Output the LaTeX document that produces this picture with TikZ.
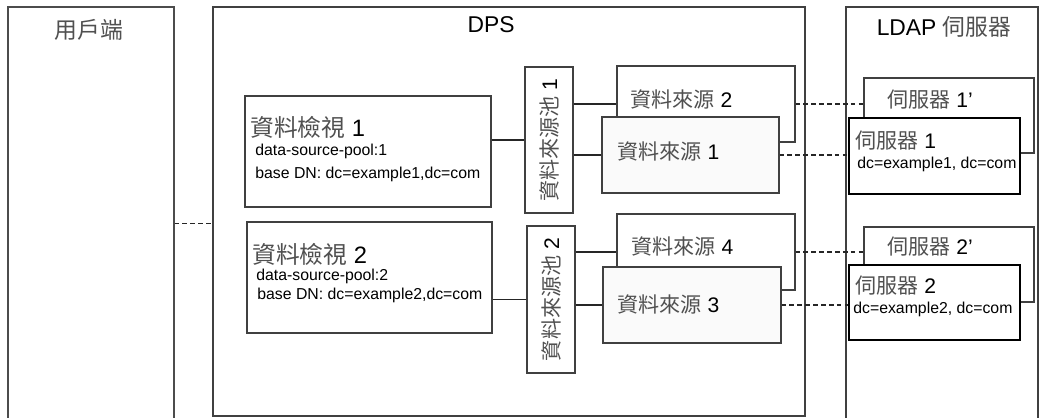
\documentclass[tikz,border=0pt]{standalone}
\usepackage{fontspec}
\setmainfont{Liberation Sans}
\newfontfamily\cjk{Noto Sans CJK TC}
\usetikzlibrary{fit,calc}

\definecolor{zhgray}{HTML}{505050}
\definecolor{boxgray}{HTML}{404040}
\newcommand{\zh}[1]{{\cjk\color{zhgray}#1}}

\tikzset{
	box/.style={draw=boxgray,line width=0.6pt,inner sep=0pt,fill=white},
	srvbox/.style={draw=black,line width=0.8pt,inner sep=0pt,fill=white},
	txt/.style={inner sep=0pt,anchor=base west},
	link/.style={draw=black!85,line width=0.6pt},
	dlink/.style={link,dash pattern=on 2.6pt off 1.9pt},
	big/.style={font=\fontsize{13}{15}\selectfont},
	mid/.style={font=\fontsize{12}{14}\selectfont},
	small/.style={font=\fontsize{9}{11}\selectfont}
}

\begin{document}
\begin{tikzpicture}[x=0.02cm,y=-0.02cm]
\useasboundingbox (0,0) rectangle (1043,417);

% the three columns
\node[box,draw=black!70,fit={(8,7) (174,420)}] (client) {};
\node[box,fit={(213,7) (805,416)}] (dps) {};
\node[box,fit={(846,7) (1038,420)}] (ldap) {};

\node[big,anchor=base] at (89,38) {\zh{用戶端}};
\node[big,anchor=base] at (491,32) {DPS};
\node[big,anchor=base] at (944,35) {LDAP \zh{伺服器}};

% data views
\node[box,fit={(245,96) (491,207)}] (view1) {};
\node[box,fit={(247,222) (492,333)}] (view2) {};

\node[txt,font=\fontsize{13.5}{15}\selectfont] at (250,136) {\zh{資料檢視} 1};
\node[txt,small] at (255,155) {data-source-pool:1};
\node[txt,small] at (255,178) {base DN: dc=example1,dc=com};
\node[txt,font=\fontsize{13.5}{15}\selectfont] at (252,263) {\zh{資料檢視} 2};
\node[txt,small] at (256,280) {data-source-pool:2};
\node[txt,small] at (257,299) {base DN: dc=example2,dc=com};

% data source pools
\node[box,fit={(525,67) (573,213)}] (pool1) {};
\node[box,fit={(527,226) (575,373)}] (pool2) {};
\node[mid,rotate=90] at (pool1.center) {\zh{資料來源池} 1};
\node[mid,rotate=90] at (pool2.center) {\zh{資料來源池} 2};

% data sources
\node[box,fit={(617,66) (795,142)}] (ds2) {};
\node[box,fill=black!2,fit={(602,117) (779,193)}] (ds1) {};
\node[box,fit={(617,214) (795,290)}] (ds4) {};
\node[box,fill=black!2,fit={(603,267) (781,343)}] (ds3) {};

\node[txt,mid] at (630,107) {\zh{資料來源} 2};
\node[txt,mid] at (617,159) {\zh{資料來源} 1};
\node[txt,mid] at (631,254) {\zh{資料來源} 4};
\node[txt,mid] at (617,312) {\zh{資料來源} 3};

% ldap servers
\node[box,fit={(864,78) (1034,153)}] (srv1p) {};
\node[srvbox,fit={(849,118) (1020,194)}] (srv1) {};
\node[box,fit={(864,227) (1034,302)}] (srv2p) {};
\node[srvbox,fit={(849,265) (1020,340)}] (srv2) {};

\node[txt,mid] at (887,107) {\zh{伺服器} 1’};
\node[txt,mid] at (855,148) {\zh{伺服器} 1};
\node[txt,small] at (857,168) {dc=example1, dc=com};
\node[txt,mid] at (887,254) {\zh{伺服器} 2’};
\node[txt,mid] at (855,293) {\zh{伺服器} 2};
\node[txt,small] at (853,313) {dc=example2, dc=com};

% connectors
\coordinate (cl) at ($(client.east)+(0,10)$);
\path[dlink] (cl) edge (cl -| dps.west);

\path[link] (view1.east |- pool1.west) edge (pool1.west);
\path[link] (view2.east |- pool2.west) edge (pool2.west);

\path[link] (pool1.east |- ds2.west) edge (ds2.west);
\path[link] (pool1.east |- ds1.west) edge (ds1.west);
\path[link] (pool2.east |- ds4.west) edge (ds4.west);
\path[link] (pool2.east |- ds3.west) edge (ds3.west);

\path[dlink] (ds2.east) edge (ds2.east -| srv1p.west);
\path[dlink] (ds1.east) edge (ds1.east -| srv1.west);
\path[dlink] (ds4.east) edge (ds4.east -| srv2p.west);
\path[dlink] (ds3.east) edge (ds3.east -| srv2.west);

\end{tikzpicture}
\end{document}
